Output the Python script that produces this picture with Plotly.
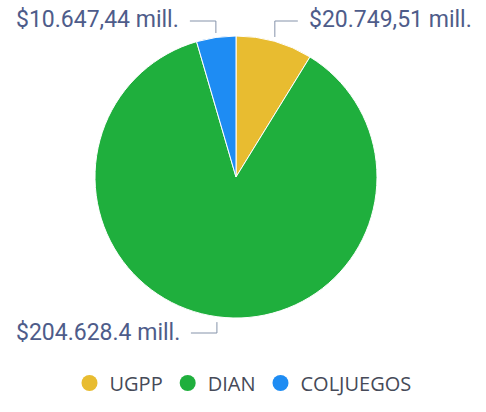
import math
import plotly.graph_objects as go

categories = ["UGPP", "DIAN", "COLJUEGOS"]
values = [20749.51, 204628.4, 10647.44]
value_labels = ["$20.749,51 mill.", "$204.628.4 mill.", "$10.647,44 mill."]
colors = ["#E8BC30", "#1FAF3D", "#1E8CF3"]

W, H = 486, 412
cx, cy, R = 236, 177, 141  # pie center / radius in px (layout)

fig = go.Figure()
fig.add_trace(go.Pie(
    labels=categories, values=values, sort=False, direction="clockwise", rotation=0,
    marker=dict(colors=colors, line=dict(color="white", width=1)),
    textinfo="none", hoverinfo="label+value", showlegend=False,
    domain=dict(x=[(cx - R) / W, (cx + R) / W], y=[1 - (cy + R) / H, 1 - (cy - R) / H]),
))

for name, col in zip(categories, colors):
    fig.add_trace(go.Scatter(x=[None], y=[None], mode="markers", name=name,
                             marker=dict(color=col, size=16, symbol="circle")))

def px(x):
    return x / W

def py(y):
    return 1 - y / H

total = sum(values)
start = 0.0
shapes, annots = [], []
for v, lab in zip(values, value_labels):
    frac = v / total
    mid = (start + frac / 2) * 2 * math.pi
    start += frac
    ex = cx + R * 1.01 * math.sin(mid)
    ey = cy - R * 1.01 * math.cos(mid)
    top = math.cos(mid) > 0
    ly = 21 if top else 333
    right = math.sin(mid) > 0
    hx = ex + 23 if right else ex - 26
    shapes.append(dict(type="path", xref="paper", yref="paper",
                       path=f"M {px(ex)} {py(ey + (-3 if top else 4))} L {px(ex)} {py(ly)} L {px(hx)} {py(ly)}",
                       line=dict(color="#8593AA", width=1)))
    annots.append(dict(x=px(hx + (9 if right else -9)), y=py(ly - 1), xref="paper", yref="paper",
                       text=lab, showarrow=False, xanchor="left" if right else "right", yanchor="middle",
                       font=dict(family="Roboto", size=23, color="#4E5C8A")))

fig.update_layout(
    width=W, height=H, margin=dict(l=0, r=0, t=0, b=0),
    paper_bgcolor="white", plot_bgcolor="white",
    xaxis=dict(visible=False), yaxis=dict(visible=False),
    shapes=shapes, annotations=annots,
    legend=dict(orientation="h", x=0.5, xanchor="center", y=py(383), yanchor="middle",
                font=dict(family="Open Sans", size=20, color="#464A58"),
                itemwidth=30, tracegroupgap=0),
)

fig.write_html("out.html")
